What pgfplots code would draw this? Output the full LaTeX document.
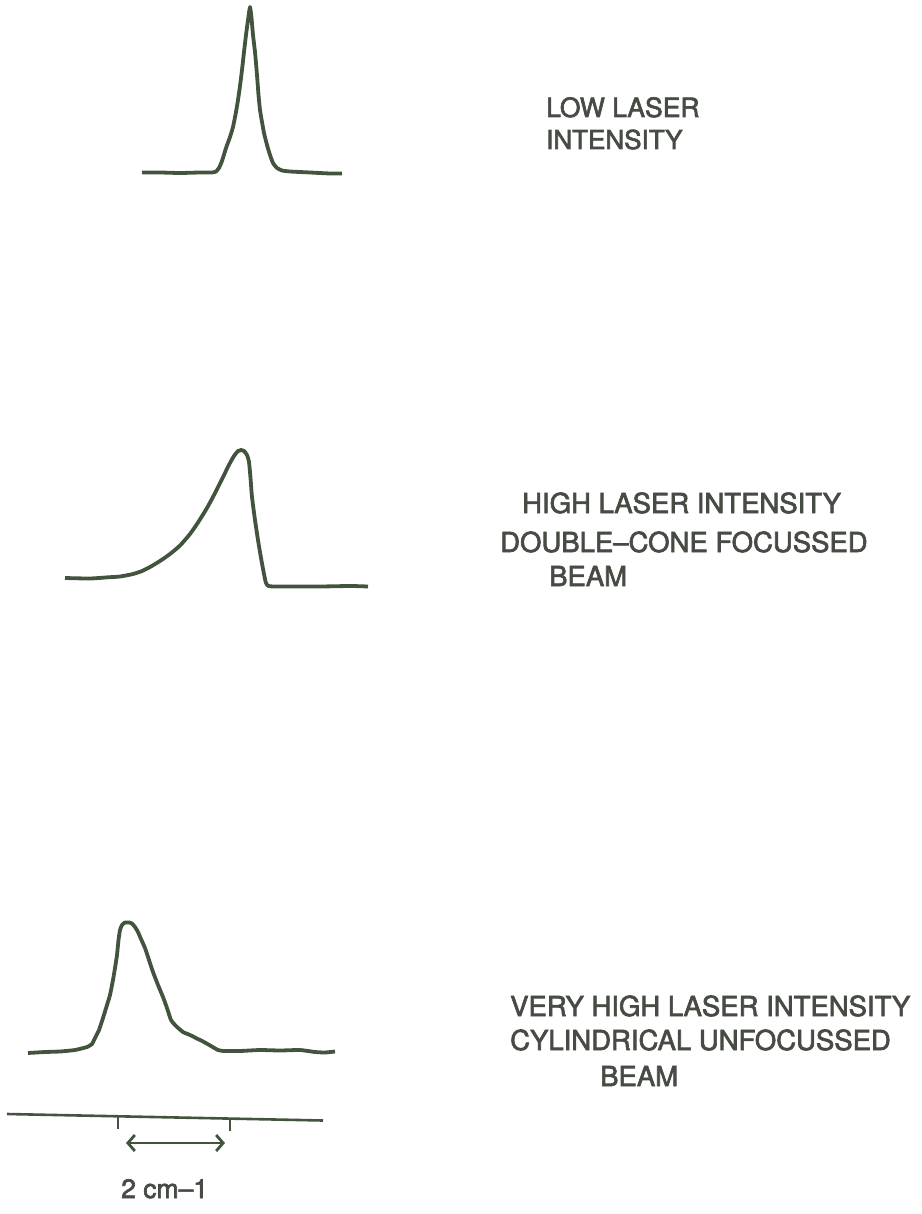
\documentclass[border=0pt]{standalone}
\usepackage{fontspec}
\setmainfont{TeX Gyre Heros}
\newfontfamily\labfont[FakeBold=2.4,Ligatures=TeX]{TeX Gyre Heros}
\usepackage{pgfplots}
\pgfplotsset{compat=1.18}
\usetikzlibrary{arrows.meta}
\definecolor{curvecol}{RGB}{66,84,62}
\definecolor{textcol}{RGB}{70,76,68}
\begin{document}
\begin{tikzpicture}
\begin{axis}[
  scale only axis, width=921pt, height=1214pt,
  xmin=0, xmax=921, ymin=0, ymax=1214, y dir=reverse,
  hide axis, clip=false,
]
% low laser intensity
\addplot[curvecol, line width=3.8pt, smooth, tension=0.3, line join=round] coordinates {
(142,172.5)(160,172.5)(180,173)(200,172.5)(212,172.5)(216,171.5)(219,168)(222,161)(226,148)(230,137)(233,127)(236,112)(238,100)(240,86)(242,70)(244,52)(246,35)(248,20)(250,7)(251.5,18)(253,35)(255,52)(257,75)(258.5,95)(260,110)(262,122)(264,133)(267,145)(270,155)(273,163)(277,168)(282,170.5)(290,171.5)(310,172.5)(330,173.5)(342,173.5)
};
% high laser intensity
\addplot[curvecol, line width=3.8pt, smooth, tension=0.4, line join=round] coordinates {
(65,578)(90,578.5)(108,577.3)(120,576.5)(133,574)(142,571)(150,567)(160,561)(170,554)(180,545.5)(190,534)(198,522.5)(207,508)(214,495)(220,483)(225,473)(230,463)(234,456)(238,451)(241,450)(244,451)(247,455)(249,462)(250.5,478)(252,497)(255,520)(258,540)(261,558)(264,574)(266,583)(268.5,586)(275,586.5)(290,586.5)(320,586.5)(350,586)(368,586.5)
};
% very high laser intensity
\addplot[curvecol, line width=3.8pt, smooth, tension=0.3, line join=round] coordinates {
(28,1053)(45,1052)(60,1051.5)(75,1050)(87,1047)(92,1044)(95,1038)(99,1030)(103,1018)(107,1005)(110,995)(113,980)(115,968)(117,955)(118.5,940)(120,930)(122,925)(125,922.5)(129,922.5)(132,923.5)(135,927)(138,932)(141,939)(145,948)(149,960)(153,972)(158,985)(163,997)(167,1008)(171,1020)(176,1026)(183,1032)(190,1035)(197,1038.5)(204,1042)(211,1046)(218,1050)(224,1051)(240,1051)(260,1050)(280,1050.5)(300,1050)(315,1052)(325,1052.5)(335,1051.5)
};
% scale bar
\addplot[curvecol, line width=2.6pt] coordinates {(7,1114)(323,1120.5)};
\addplot[curvecol, line width=2.8pt] coordinates {(118,1116.5)(118,1129)};
\addplot[curvecol, line width=2.8pt] coordinates {(230,1119)(230,1131)};
\addplot[curvecol, line width=2.8pt, {Straight Barb[length=7pt,width=16pt]}-{Straight Barb[length=7pt,width=16pt]}] coordinates {(126,1143)(225,1143)};
% labels
\node[anchor=base west, text=textcol, font=\labfont\fontsize{26.5}{30}\selectfont, inner sep=0pt] at (axis cs:546,117) {LOW LASER};
\node[anchor=base west, text=textcol, font=\labfont\fontsize{26}{30}\selectfont, inner sep=0pt] at (axis cs:546,149) {INTENSITY};
\node[anchor=base west, text=textcol, font=\labfont\fontsize{27.5}{30}\selectfont, inner sep=0pt] at (axis cs:522,513) {HIGH LASER INTENSITY};
\node[anchor=base west, text=textcol, font=\labfont\fontsize{27.5}{30}\selectfont, inner sep=0pt] at (axis cs:500,552) {DOUBLE--CONE FOCUSSED};
\node[anchor=base west, text=textcol, font=\labfont\fontsize{27.5}{30}\selectfont, inner sep=0pt] at (axis cs:549,586) {BEAM};
\node[anchor=base west, text=textcol, font=\labfont\fontsize{27.5}{30}\selectfont, inner sep=0pt] at (axis cs:510,1016) {VERY HIGH LASER INTENSITY};
\node[anchor=base west, text=textcol, font=\labfont\fontsize{27.5}{30}\selectfont, inner sep=0pt] at (axis cs:510,1050) {CYLINDRICAL UNFOCUSSED};
\node[anchor=base west, text=textcol, font=\labfont\fontsize{27.5}{30}\selectfont, inner sep=0pt] at (axis cs:600,1086) {BEAM};
\node[anchor=base west, text=textcol, font=\labfont\fontsize{26.5}{30}\selectfont, inner sep=0pt] at (axis cs:121,1198) {2 cm--1};
\end{axis}
\path[use as bounding box] (0,0) rectangle (921pt,1214pt);
\end{tikzpicture}
\end{document}
